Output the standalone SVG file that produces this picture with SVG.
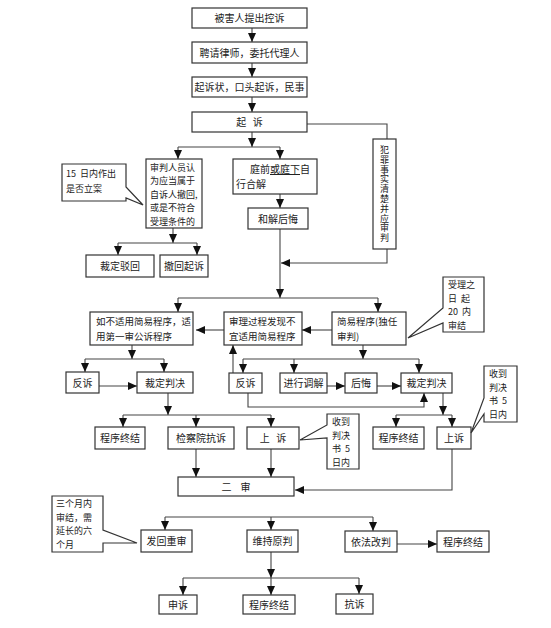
<svg xmlns="http://www.w3.org/2000/svg" width="551" height="628" viewBox="0 0 551 628">
<defs>
<marker id="ah" markerUnits="userSpaceOnUse" markerWidth="9" markerHeight="8" refX="9" refY="4" orient="auto">
<path d="M0,0 L9,4 L0,8 z" fill="#111"/>
</marker>
<style>
.b{fill:#fff;stroke:#333;stroke-width:1.2}
.t{font-family:"Noto Sans CJK SC","Noto Sans",sans-serif;font-size:10px;fill:#222}
.m{font-family:"Noto Sans CJK SC","Noto Sans",sans-serif;font-size:9px;fill:#222}
.c{text-anchor:middle}
.k{font-family:"Noto Sans CJK SC","Liberation Serif",serif;font-size:9px;fill:#222}
.l{fill:none;stroke:#444;stroke-width:1.1}
.a{fill:none;stroke:#444;stroke-width:1.1;marker-end:url(#ah)}
</style>
</defs>
<rect width="551" height="628" fill="#fff"/>

<g id="connectors">
<path class="a" d="M252,28 V42"/>
<path class="a" d="M252,63 V77"/>
<path class="a" d="M252,97 V112"/>
<path class="a" d="M252,132 V147"/>
<path class="l" d="M178,147 H280"/>
<path class="a" d="M178,147 V159"/>
<path class="a" d="M280,147 V159"/>
<path class="l" d="M307,124 H387 V139"/>
<path class="a" d="M387,249 V263 H281"/>
<path class="a" d="M173,228 V243"/>
<path class="l" d="M118,243 H197"/>
<path class="a" d="M118,243 V255"/>
<path class="a" d="M197,243 V255"/>
<path class="a" d="M280,194 V208"/>
<path class="a" d="M280,229 V298"/>
<path class="l" d="M178,298 H378"/>
<path class="a" d="M178,298 V312"/>
<path class="a" d="M378,298 V312"/>
<path class="a" d="M332,330 H302"/>
<path class="a" d="M224,330 H196"/>
<path class="a" d="M132,345 V359"/>
<path class="l" d="M85,359 H164"/>
<path class="a" d="M85,359 V372"/>
<path class="a" d="M164,359 V372"/>
<path class="a" d="M363,345 V359"/>
<path class="l" d="M243,359 H419"/>
<path class="a" d="M243,359 V373"/>
<path class="a" d="M294,359 V373"/>
<path class="a" d="M419,359 V373"/>
<path class="a" d="M99,386 H137"/>
<path class="a" d="M233,373 V345"/>
<path class="a" d="M327,386 H345"/>
<path class="a" d="M377,386 H401"/>
<path class="a" d="M248,393 V407 H424 V393"/>
<path class="a" d="M443,393 V415"/>
<path class="l" d="M396,415 H452"/>
<path class="a" d="M396,415 V427"/>
<path class="a" d="M452,415 V427"/>
<path class="a" d="M452,449 V490 H295"/>
<path class="a" d="M168,393 V415"/>
<path class="l" d="M123,415 H271"/>
<path class="a" d="M123,415 V427"/>
<path class="a" d="M196,415 V427"/>
<path class="a" d="M271,415 V427"/>
<path class="a" d="M196,449 V477"/>
<path class="a" d="M271,449 V477"/>
<path class="l" d="M165,517 H373"/>
<path class="a" d="M165,517 V530"/>
<path class="a" d="M271,517 V530"/>
<path class="a" d="M373,517 V531"/>
<path class="a" d="M397,544 H437"/>
<path class="a" d="M271,552 V578"/>
<path class="l" d="M183,578 H359"/>
<path class="a" d="M183,578 V595"/>
<path class="a" d="M271,578 V595"/>
<path class="a" d="M359,578 V594"/>
</g>

<g id="n1"><rect class="b" x="192" y="8" width="115" height="20"/><text class="t c" x="249.5" y="22">被害人提出控诉</text></g>
<g id="n2"><rect class="b" x="192" y="42" width="115" height="21"/><text class="t c" x="249.5" y="56.5">聘请律师，委托代理人</text></g>
<g id="n3"><rect class="b" x="192" y="77" width="115" height="20"/><text class="t c" x="249.5" y="91">起诉状，口头起诉，民事</text></g>
<g id="n4"><rect class="b" x="192" y="112" width="115" height="20"/><text class="t c" x="249.5" y="126" xml:space="preserve">起   诉</text></g>

<g id="n5"><rect class="b" x="373" y="139" width="23" height="110"/>
<text class="m c" x="384.5" y="194" writing-mode="tb" style="letter-spacing:0.8px">犯罪事实清楚并应审判</text></g>

<g id="n6"><rect class="b" x="146" y="159" width="56" height="69"/>
<text class="m" x="150" y="170.5">审判人员认</text>
<text class="m" x="150" y="184">为应当属于</text>
<text class="m" x="150" y="197.5">自诉人撤回,</text>
<text class="m" x="150" y="211">或是不符合</text>
<text class="m" x="150" y="224.5">受理条件的</text></g>

<g id="n7"><rect class="b" x="233" y="159" width="84" height="35"/>
<text class="t" x="250" y="173">庭前<tspan text-decoration="underline">或庭下</tspan>自</text>
<text class="t" x="236" y="188">行合解</text></g>

<g id="n8"><rect class="b" x="248" y="208" width="60" height="21"/><text class="t c" x="278" y="222.5">和解后悔</text></g>

<g id="n9"><path class="b" d="M62,164 H126 V187 L143,205 L126,198 V201 H62 Z"/>
<text class="k" x="66" y="177" xml:space="preserve">15  日内作出</text>
<text class="k" x="66" y="192">是否立案</text></g>

<g id="n10"><rect class="b" x="86" y="255" width="68" height="22"/><text class="t c" x="120" y="270">裁定驳回</text></g>
<g id="n11"><rect class="b" x="160" y="255" width="48" height="22"/><text class="t c" x="184" y="270">撤回起诉</text></g>

<g id="n12"><rect class="b" x="90" y="312" width="103" height="33"/>
<text class="t" x="96" y="325" style="font-size:9.5px">如不适用简易程序，适</text>
<text class="t" x="96" y="340" style="font-size:9.5px">用第一审公诉程序</text></g>

<g id="n13"><rect class="b" x="224" y="312" width="78" height="33"/>
<text class="t" x="229" y="325" style="font-size:9.5px">审理过程发现不</text>
<text class="t" x="229" y="340" style="font-size:9.5px">宜适用简易程序</text></g>

<g id="n14"><rect class="b" x="332" y="312" width="74" height="33"/>
<text class="t" x="337" y="325" style="font-size:9.5px">简易程序(独任</text>
<text class="t" x="337" y="340" style="font-size:9.5px">审判)</text></g>

<g id="n15"><path class="b" d="M443,277 H484 V332 H443 V323 L408,338 L443,308 Z"/>
<text class="m" x="448" y="288">受理之</text>
<text class="m" x="448" y="301.5" xml:space="preserve">日  起</text>
<text class="m" x="448" y="315" xml:space="preserve">20  内</text>
<text class="m" x="448" y="328.5">审结</text></g>

<g id="n16"><rect class="b" x="66" y="372" width="33" height="21"/><text class="t c" x="82.5" y="386.5">反诉</text></g>
<g id="n17"><rect class="b" x="137" y="372" width="56" height="21"/><text class="t c" x="165" y="386.5">裁定判决</text></g>
<g id="n18"><rect class="b" x="229" y="373" width="33" height="20"/><text class="t c" x="245.5" y="387">反诉</text></g>
<g id="n19"><rect class="b" x="280" y="373" width="47" height="20"/><text class="t c" x="303.5" y="387">进行调解</text></g>
<g id="n20"><rect class="b" x="345" y="373" width="32" height="20"/><text class="t c" x="361" y="387">后悔</text></g>
<g id="n21"><rect class="b" x="401" y="373" width="51" height="20"/><text class="t c" x="426.5" y="387">裁定判决</text></g>

<g id="n22"><rect class="b" x="95" y="427" width="50" height="22"/><text class="t c" x="120" y="442">程序终结</text></g>
<g id="n23"><rect class="b" x="168" y="427" width="66" height="22"/><text class="t c" x="201" y="442">检察院抗诉</text></g>
<g id="n24"><rect class="b" x="247" y="427" width="52" height="22"/><text class="t c" x="273" y="442" xml:space="preserve">上   诉</text></g>
<g id="n25"><path class="b" d="M327,414 H359 V469 H327 V438 L300,440 L327,425 Z"/>
<text class="m" x="332" y="425">收到</text>
<text class="m" x="332" y="438.5">判决</text>
<text class="m" x="332" y="452" xml:space="preserve">书  5</text>
<text class="m" x="332" y="465.5">日内</text></g>

<g id="n26"><rect class="b" x="373" y="427" width="51" height="22"/><text class="t c" x="398.5" y="442">程序终结</text></g>
<g id="n27"><rect class="b" x="437" y="427" width="34" height="22"/><text class="t c" x="454" y="442">上诉</text></g>
<g id="n28"><path class="b" d="M484,366 H517 V422 H484 V414 L471,433 L484,398 Z"/>
<text class="m" x="489" y="377">收到</text>
<text class="m" x="489" y="390.5">判决</text>
<text class="m" x="489" y="404" xml:space="preserve">书  5</text>
<text class="m" x="489" y="417.5">日内</text></g>

<g id="n29"><rect class="b" x="178" y="477" width="116" height="19"/><text class="t c" x="236" y="490.5" xml:space="preserve">二    审</text></g>

<g id="n30"><path class="b" d="M52,496 H103 V530 L137,543 L103,543 V552 H52 Z"/>
<text class="m" x="56" y="507">三个月内</text>
<text class="m" x="56" y="520.5">审结，需</text>
<text class="m" x="56" y="534">延长的六</text>
<text class="m" x="56" y="547.5">个月</text></g>

<g id="n31"><rect class="b" x="141" y="530" width="51" height="22"/><text class="t c" x="166.5" y="545">发回重审</text></g>
<g id="n32"><rect class="b" x="247" y="530" width="51" height="22"/><text class="t c" x="272.5" y="545">维持原判</text></g>
<g id="n33"><rect class="b" x="345" y="531" width="52" height="21"/><text class="t c" x="371" y="545.5">依法改判</text></g>
<g id="n34"><rect class="b" x="437" y="531" width="52" height="21"/><text class="t c" x="463" y="545.5">程序终结</text></g>

<g id="n35"><rect class="b" x="159" y="595" width="38" height="19"/><text class="t c" x="178" y="608.5">申诉</text></g>
<g id="n36"><rect class="b" x="243" y="595" width="52" height="19"/><text class="t c" x="269" y="608.5">程序终结</text></g>
<g id="n37"><rect class="b" x="336" y="594" width="37" height="20"/><text class="t c" x="354.5" y="608">抗诉</text></g>
</svg>
